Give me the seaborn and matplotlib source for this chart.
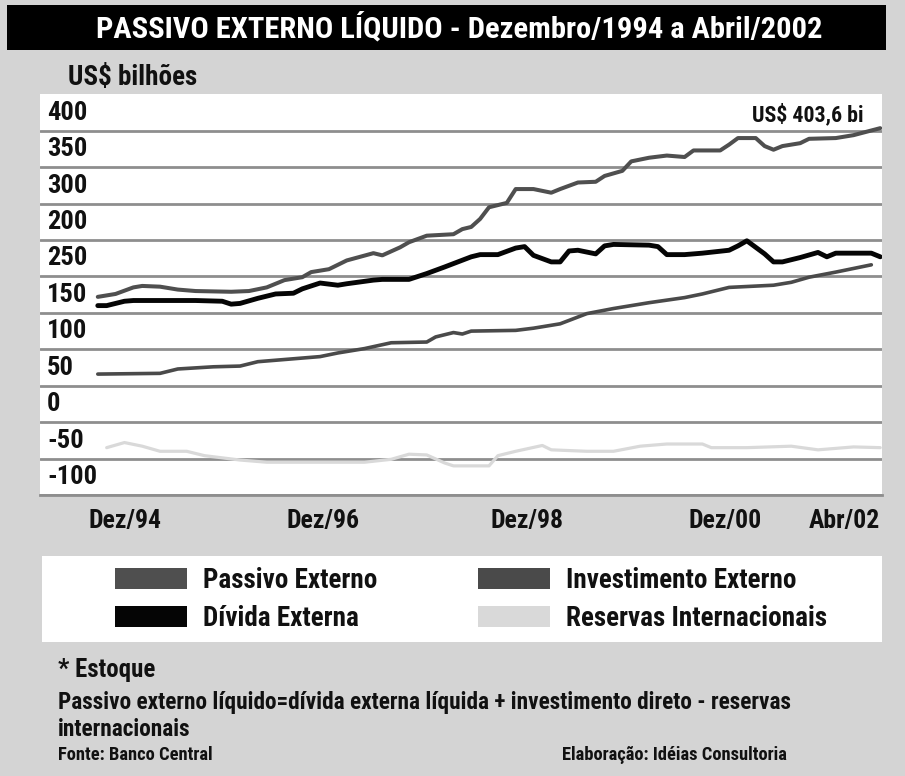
import os
import numpy as np
import pandas as pd
import matplotlib
matplotlib.use("Agg")
import matplotlib.pyplot as plt
import matplotlib.transforms as mtransforms
from matplotlib.patches import Rectangle, Patch
from matplotlib.font_manager import FontProperties
from matplotlib import font_manager
import seaborn as sns

# ---------------- data (US$ bilhões, months since Dez/94) ----------------
passivo_mes = [0, 2, 4, 5, 7, 9, 11, 15, 17, 19, 21, 23, 24, 26, 28, 31, 32, 34, 35, 37,
               40, 41, 42, 43, 44, 46, 47, 49, 51, 52, 54, 56, 57, 59, 60, 62, 64, 66, 67, 70,
               71, 72, 74, 75, 76, 77, 79, 80, 83, 85, 88]
passivo_val = [172, 176, 185, 187, 186, 182, 180, 179, 180, 185, 195, 199, 206, 210, 222, 232, 229, 240, 247, 256,
               258, 265, 268, 279, 295, 301, 320, 320, 315, 320, 329, 330, 338, 345, 358, 363, 366, 364, 373, 373,
               381, 390, 390, 379, 374, 379, 383, 389, 390, 394, 403.6]

divida_mes = [0, 1, 3, 4, 7, 11, 14, 15, 16, 18, 20, 22, 23, 25, 27, 28, 31, 32, 35, 37,
              39, 42, 43, 45, 47, 48, 49, 51, 52, 53, 54, 56, 57, 58, 62, 63, 64, 66, 68, 71,
              72, 73, 74, 75, 76, 77, 79, 81, 82, 83, 87, 88]
divida_val = [160, 160, 166, 167, 167, 167, 166, 162, 163, 170, 176, 177, 183, 191, 188, 190, 195, 196, 196, 204,
              213, 227, 230, 230, 239, 241, 229, 220, 220, 235, 236, 231, 242, 244, 243, 241, 230, 230, 232, 236,
              242, 249, 240, 231, 220, 220, 226, 233, 227, 232, 232, 227]

invest_mes = [0, 7, 9, 13, 16, 18, 20, 25, 27, 30, 33, 37, 38, 40, 41, 42, 47, 49, 52, 55,
              58, 62, 66, 68, 71, 76, 78, 80, 83, 87]
invest_val = [66, 67, 73, 76, 77, 83, 85, 90, 95, 101, 109, 110, 117, 123, 121, 125, 126, 129, 135, 149,
              156, 164, 171, 176, 185, 188, 192, 199, 206, 216]

reservas_mes = [1, 3, 5, 7, 10, 12, 16, 19, 26, 30, 33, 35, 37, 39, 40, 44, 45, 47, 50, 51,
                55, 58, 61, 64, 68, 69, 73, 78, 81, 85, 88]
reservas_val = [-35, -28, -33, -40, -40, -46, -52, -55, -55, -55, -51, -44, -45, -56, -60, -60, -46, -40, -32, -38,
                -40, -40, -33, -30, -30, -35, -35, -33, -38, -34, -35]

series_names = ["Passivo Externo", "Dívida Externa", "Investimento Externo", "Reservas Internacionais"]
series_colors = {"Passivo Externo": "#4f4f4f", "Dívida Externa": "#050505",
                 "Investimento Externo": "#4a4a4a", "Reservas Internacionais": "#d9d9d9"}
series_widths = {"Passivo Externo": 2.9, "Dívida Externa": 3.5,
                 "Investimento Externo": 2.6, "Reservas Internacionais": 2.3}

ytick_values = [400, 350, 300, 250, 200, 150, 100, 50, 0, -50, -100]
ytick_labels = ["400", "350", "300", "200", "250", "150", "100", "50", "0", "-50", "-100"]
xtick_pos = [3.1, 25.3, 48.3, 70.6, 84.0]
xtick_labels = ["Dez/94", "Dez/96", "Dez/98", "Dez/00", "Abr/02"]

title = "PASSIVO EXTERNO LÍQUIDO - Dezembro/1994 a Abril/2002"
unit_label = "US$ bilhões"
final_label = "US$ 403,6 bi"
note1 = "* Estoque"
note2 = "Passivo externo líquido=dívida externa líquida + investimento direto - reservas"
note3 = "internacionais"
source = "Fonte: Banco Central"
credit = "Elaboração: Idéias Consultoria"

# ---------------- font choice: most suitable bold condensed face ----------------
sns.set_theme(style="white")


def pick_font_file():
    ranks = ["liberation", "roboto", "opensans", "open", "noto", "lato", "inter", "dejavu"]
    best = None
    for e in font_manager.fontManager.ttflist:
        base = os.path.basename(e.fname).lower()
        if not base.endswith((".ttf", ".otf")):
            continue
        if e.style != "normal" or "italic" in base or "oblique" in base:
            continue
        wt = e.weight
        if isinstance(wt, str):
            wt = font_manager.weight_dict.get(wt, 400)
        if wt != 700:
            continue
        if not ("narrow" in base or "condensed" in base):
            continue
        if any(k in base for k in ["semi", "extra", "ultra", "["]):
            continue
        r = len(ranks)
        for i, k in enumerate(ranks):
            if base.startswith(k):
                r = i
                break
        if best is None or r < best[0]:
            best = (r, e.fname)
    return best[1] if best else None


FONT_FILE = pick_font_file()


def fp(size):
    if FONT_FILE:
        return FontProperties(fname=FONT_FILE, size=size)
    return FontProperties(family="DejaVu Sans", weight="bold", stretch="condensed", size=size)


BG = "#d4d4d4"
GRID = "#8e8e8e"
INK = "#111111"
W, H = 905, 776


def fx(px):
    return px / W


def fy(py):
    return 1 - py / H


fig = plt.figure(figsize=(W / 100, H / 100), dpi=100, facecolor=BG)
renderer = fig.canvas.get_renderer()


def size_for(s, target_px, base=20.0):
    t = fig.text(0, 0, s, fontproperties=fp(base))
    w = t.get_window_extent(renderer).width
    t.remove()
    return base * target_px / w


def height_px(s, size):
    t = fig.text(0, 0, s, fontproperties=fp(size))
    h = t.get_window_extent(renderer).height
    t.remove()
    return h


# title banner
fig.patches.append(Rectangle((fx(7), fy(50)), fx(886) - fx(7), 45 / H, transform=fig.transFigure,
                             facecolor="black", edgecolor="none", zorder=0))
fig.text(fx(459.5), fy(28), title, color="white", fontproperties=fp(size_for(title, 725)),
         ha="center", va="center")
fig.text(fx(68), fy(77), unit_label, fontproperties=fp(size_for(unit_label, 129)),
         ha="left", va="center", color=INK)

# main axes
ax = fig.add_axes([fx(40), fy(495), (882 - 40) / W, (495 - 94) / H])
ax.set_facecolor("white")

frames = []
for name, m, v in [("Passivo Externo", passivo_mes, passivo_val),
                   ("Dívida Externa", divida_mes, divida_val),
                   ("Investimento Externo", invest_mes, invest_val),
                   ("Reservas Internacionais", reservas_mes, reservas_val)]:
    frames.append(pd.DataFrame({"serie": name, "mes": m, "valor": v}))
df = pd.concat(frames, ignore_index=True)

for name in ["Reservas Internacionais", "Investimento Externo", "Passivo Externo", "Dívida Externa"]:
    sns.lineplot(data=df[df["serie"] == name], x="mes", y="valor", ax=ax, color=series_colors[name],
                 linewidth=series_widths[name], legend=False, estimator=None, sort=False,
                 solid_capstyle="round", solid_joinstyle="round", zorder=3)

ax.set_xlim(-6.5, 88.2)
ax.set_ylim(-100, 450.5)
ax.set_xlabel("")
ax.set_ylabel("")

ax.set_yticks(ytick_values)
ax.set_yticklabels(ytick_labels)
ax.yaxis.grid(True, color=GRID, linewidth=2.0)
ax.xaxis.grid(False)
ax.set_axisbelow(True)
for s in ["left", "right", "top"]:
    ax.spines[s].set_visible(False)
ax.spines["bottom"].set_color(GRID)
ax.spines["bottom"].set_linewidth(2.0)

ysize = size_for("400", 40)
ax.tick_params(axis="y", length=0, pad=-5, labelcolor=INK)
offset = mtransforms.ScaledTranslation(0, 0.18, fig.dpi_scale_trans)
for lab in ax.get_yticklabels():
    lab.set_fontproperties(fp(ysize))
    lab.set_horizontalalignment("left")
    lab.set_verticalalignment("center")
    lab.set_transform(lab.get_transform() + offset)

ax.set_xticks(xtick_pos)
ax.set_xticklabels(xtick_labels)
xsize = size_for("Dez/94", 73)
ax.tick_params(axis="x", length=0, pad=10, labelcolor=INK)
for lab in ax.get_xticklabels():
    lab.set_fontproperties(fp(xsize))

ax.annotate(final_label, xy=(passivo_mes[-1], passivo_val[-1]), xytext=(-12, 9.5),
            textcoords="offset points", ha="right", va="center",
            fontproperties=fp(size_for(final_label, 111)), color=INK)

# legend box
fig.patches.append(Rectangle((fx(42), fy(642)), (882 - 42) / W, (642 - 556) / H, transform=fig.transFigure,
                             facecolor="white", edgecolor="none", zorder=0))
lsize = size_for("Reservas Internacionais", 261)
lpx = lsize * 100 / 72
text_h = height_px("Dívida Externa", lsize)
row_h = max(22.5, text_h)
handles = {n: Patch(facecolor=series_colors[n], edgecolor="none") for n in series_names}
leg_kw = dict(frameon=False, handlelength=72 / lpx, handleheight=22.5 / lpx, handletextpad=16 / lpx,
              labelspacing=max(0.0, (37.5 - row_h) / lpx), prop=fp(lsize), borderpad=0, borderaxespad=0,
              loc="center left")
for lt in [None]:
    pass
l1 = fig.legend([handles["Passivo Externo"], handles["Dívida Externa"]],
                ["Passivo Externo", "Dívida Externa"], bbox_to_anchor=(fx(115), fy(599.5)), **leg_kw)
l2 = fig.legend([handles["Investimento Externo"], handles["Reservas Internacionais"]],
                ["Investimento Externo", "Reservas Internacionais"], bbox_to_anchor=(fx(478), fy(599.5)), **leg_kw)
for lg in (l1, l2):
    for t in lg.get_texts():
        t.set_color(INK)

# notes
nsize = size_for(note2, 732)
fig.text(fx(58), fy(670), note1, fontproperties=fp(size_for(note1, 97)), ha="left", va="center", color=INK)
fig.text(fx(58), fy(703), note2, fontproperties=fp(nsize), ha="left", va="center", color=INK)
fig.text(fx(58), fy(730), note3, fontproperties=fp(nsize), ha="left", va="center", color=INK)
ssize = size_for(source, 155)
fig.text(fx(58), fy(755), source, fontproperties=fp(ssize), ha="left", va="center", color=INK)
fig.text(fx(562), fy(755), credit, fontproperties=fp(ssize), ha="left", va="center", color=INK)

fig.savefig("out.png", dpi=100, facecolor=BG)
